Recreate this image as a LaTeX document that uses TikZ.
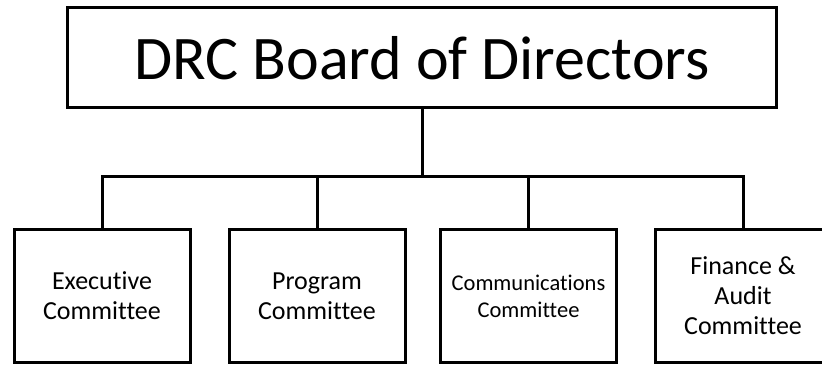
\documentclass[tikz,border=0pt]{standalone}
\usepackage{fontspec}
\setmainfont{Carlito}[Ligatures=NoCommon]
\usepackage{tikz}
\usetikzlibrary{calc}

\tikzset{
  board/.style={draw, line width=3pt, minimum width=709pt, minimum height=100pt,
    inner sep=0pt, font=\fontsize{62}{70}\selectfont},
  committee/.style={draw, line width=3pt, minimum width=176pt, minimum height=132pt,
    inner sep=0pt, align=center, font=\fontsize{26}{30}\selectfont},
  link/.style={line width=3pt}
}

\begin{document}
\begin{tikzpicture}[x=1pt,y=-1pt]
\useasboundingbox (0,0) rectangle (822,366);
% board on top
\node[board] (board) at (422,58) {DRC Board of Directors};
\coordinate (hub) at (422,177);
% committees
\node[committee] (exec) at (102,296) {Executive\\Committee};
\node[committee] (prog) at (317,296) {Program\\Committee};
\node[committee, font=\fontsize{22.5}{27}\selectfont] (comm) at (528.5,296) {Communications\\Committee};
\node[committee] (fin) at (743,296) {Finance \&\\Audit\\Committee};
% connectors
\draw[link] (board.south) -- (board.south |- hub);
\draw[link] (exec.north) |- (hub) -| (fin.north);
\foreach \c in {prog,comm}
  \draw[link] (\c.north) -- (\c.north |- hub);
\end{tikzpicture}
\end{document}
